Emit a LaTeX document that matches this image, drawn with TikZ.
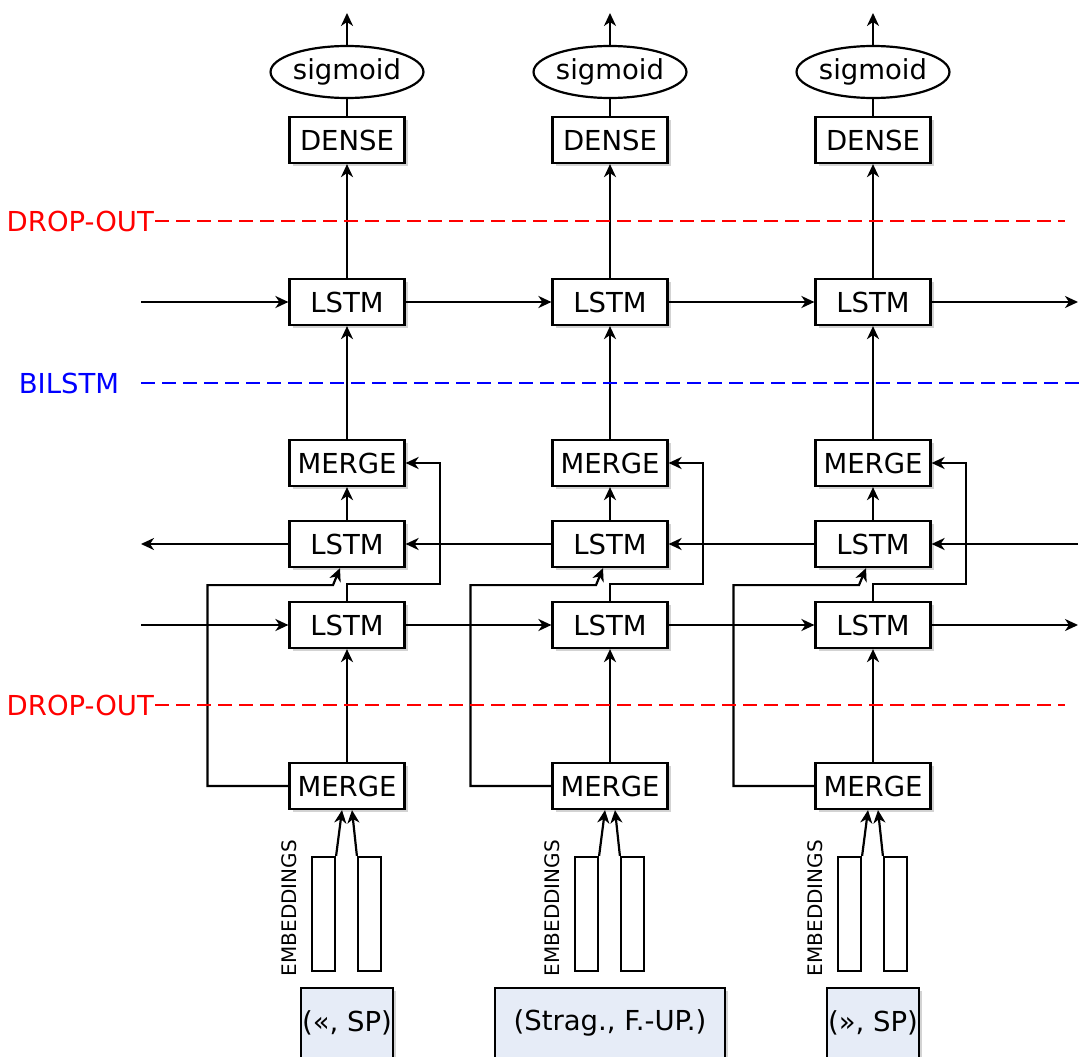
\documentclass[tikz,border=0pt]{standalone}
\usepackage{fontspec}
\setmainfont{DejaVu Sans}
\usepackage{xcolor}
\usepackage{tikz}
\usetikzlibrary{positioning,arrows.meta,shapes.geometric,shadows,calc}
\definecolor{TokenBg}{HTML}{E6ECF7}
\definecolor{DropRed}{HTML}{FF0000}
\definecolor{BiBlue}{HTML}{0000FF}

\begin{document}
\begin{tikzpicture}[x=1pt,y=-1pt,
    font=\fontsize{27.5}{32}\selectfont,
    line width=2.2pt,
    arr/.style={-{Stealth[length=13pt,width=12pt,inset=4pt]}},
    shade/.style={drop shadow={shadow xshift=3pt,shadow yshift=-3pt,opacity=0.35,fill=gray}},
    layer/.style={draw, fill=white, shade, minimum width=115pt,
                  minimum height=46pt, inner sep=0pt},
    outfn/.style={draw, ellipse, minimum width=115pt, minimum height=52pt, inner sep=0pt},
    embvec/.style={draw, fill=white, minimum width=23pt, minimum height=114pt, inner sep=0pt},
    token/.style={draw, fill=TokenBg, shade, minimum height=70pt, inner sep=0pt},
    sep/.style={dash pattern=on 14pt off 7pt}]
  \useasboundingbox (0,0) rectangle (1082,1057);

  % one column per token
  \foreach \i/\x/\tok/\tw in {1/347/{(«, SP)}/92, 2/610/{(Strag., F.-UP.)}/230, 3/873/{(», SP)}/92} {
    \node[outfn] (sig\i) at (\x,72) {sigmoid};
    \node[layer] (dn\i) at (\x,140) {DENSE};
    \node[layer] (lt\i) at (\x,302) {LSTM};
    \node[layer] (mt\i) at (\x,463) {MERGE};
    \node[layer] (lb\i) at (\x,544) {LSTM};
    \node[layer] (lf\i) at (\x,625) {LSTM};
    \node[layer] (mb\i) at (\x,786) {MERGE};
    \node[embvec] (ea\i) at (\x-23.5,914) {};
    \node[embvec] (eb\i) at (\x+22.5,914) {};
    \node[rotate=90, font=\fontsize{20}{24}\selectfont] (el\i) at (\x-58,908) {EMBEDDINGS};
    \node[token, minimum width=\tw pt] (tk\i) at (\x,1023) {\tok};
    \coordinate (out\i) at (\x,13);

    \draw[arr] (sig\i.north) -- (out\i);
    \draw (dn\i.north) -- (sig\i.south);
    \draw[arr] (lt\i.north) -- (dn\i.south);
    \draw[arr] (mt\i.north) -- (lt\i.south);
    \draw[arr] (lb\i.north) -- (mt\i.south);
    \draw[arr] (mb\i.north) -- (lf\i.south);
    \draw[arr] (lf\i.north) |- ($(mt\i.east)+(34,121)$) -- ($(mt\i.east)+(34,0)$) -- (mt\i.east);
    \draw[arr] (mb\i.west) -- ++(-81,0) |- ($(lb\i.south)+(-14,17)$) -- ($(lb\i.south)+(-7,0)$);
    \draw[arr] (ea\i.north east) -- ($(mb\i.south)+(-5,0)$);
    \draw[arr] (eb\i.north west) -- ($(mb\i.south)+(5,0)$);
  }

  % recurrent connections
  \coordinate (inT) at (141,302);
  \coordinate (outT) at (1078,302);
  \coordinate (inF) at (141,625);
  \coordinate (outF) at (1078,625);
  \coordinate (inB) at (1078,544);
  \coordinate (outB) at (141,544);
  \draw[arr] (inT) -- (lt1.west);
  \draw[arr] (inF) -- (lf1.west);
  \foreach \a/\b in {1/2,2/3} {
    \draw[arr] (lt\a.east) -- (lt\b.west);
    \draw[arr] (lf\a.east) -- (lf\b.west);
    \draw[arr] (lb\b.west) -- (lb\a.east);
  }
  \draw[arr] (lt3.east) -- (outT);
  \draw[arr] (lf3.east) -- (outF);
  \draw[arr] (inB) -- (lb3.east);
  \draw[arr] (lb1.west) -- (outB);

  % separators
  \node[text=DropRed, inner sep=0pt, anchor=east] (doT) at (155,221) {DROP-OUT};
  \node[text=DropRed, inner sep=0pt, anchor=east] (doB) at (155,705) {DROP-OUT};
  \node[text=BiBlue, inner sep=0pt] (bi) at (69,383) {BILSTM};
  \coordinate (doTend) at (1065,221);
  \coordinate (doBend) at (1065,705);
  \coordinate (biS) at (141,383);
  \coordinate (biE) at (1082,383);
  \draw[DropRed, sep] (doT.east) -- (doTend);
  \draw[DropRed, sep] (doB.east) -- (doBend);
  \draw[BiBlue, sep] (biS) -- (biE);
\end{tikzpicture}
\end{document}
